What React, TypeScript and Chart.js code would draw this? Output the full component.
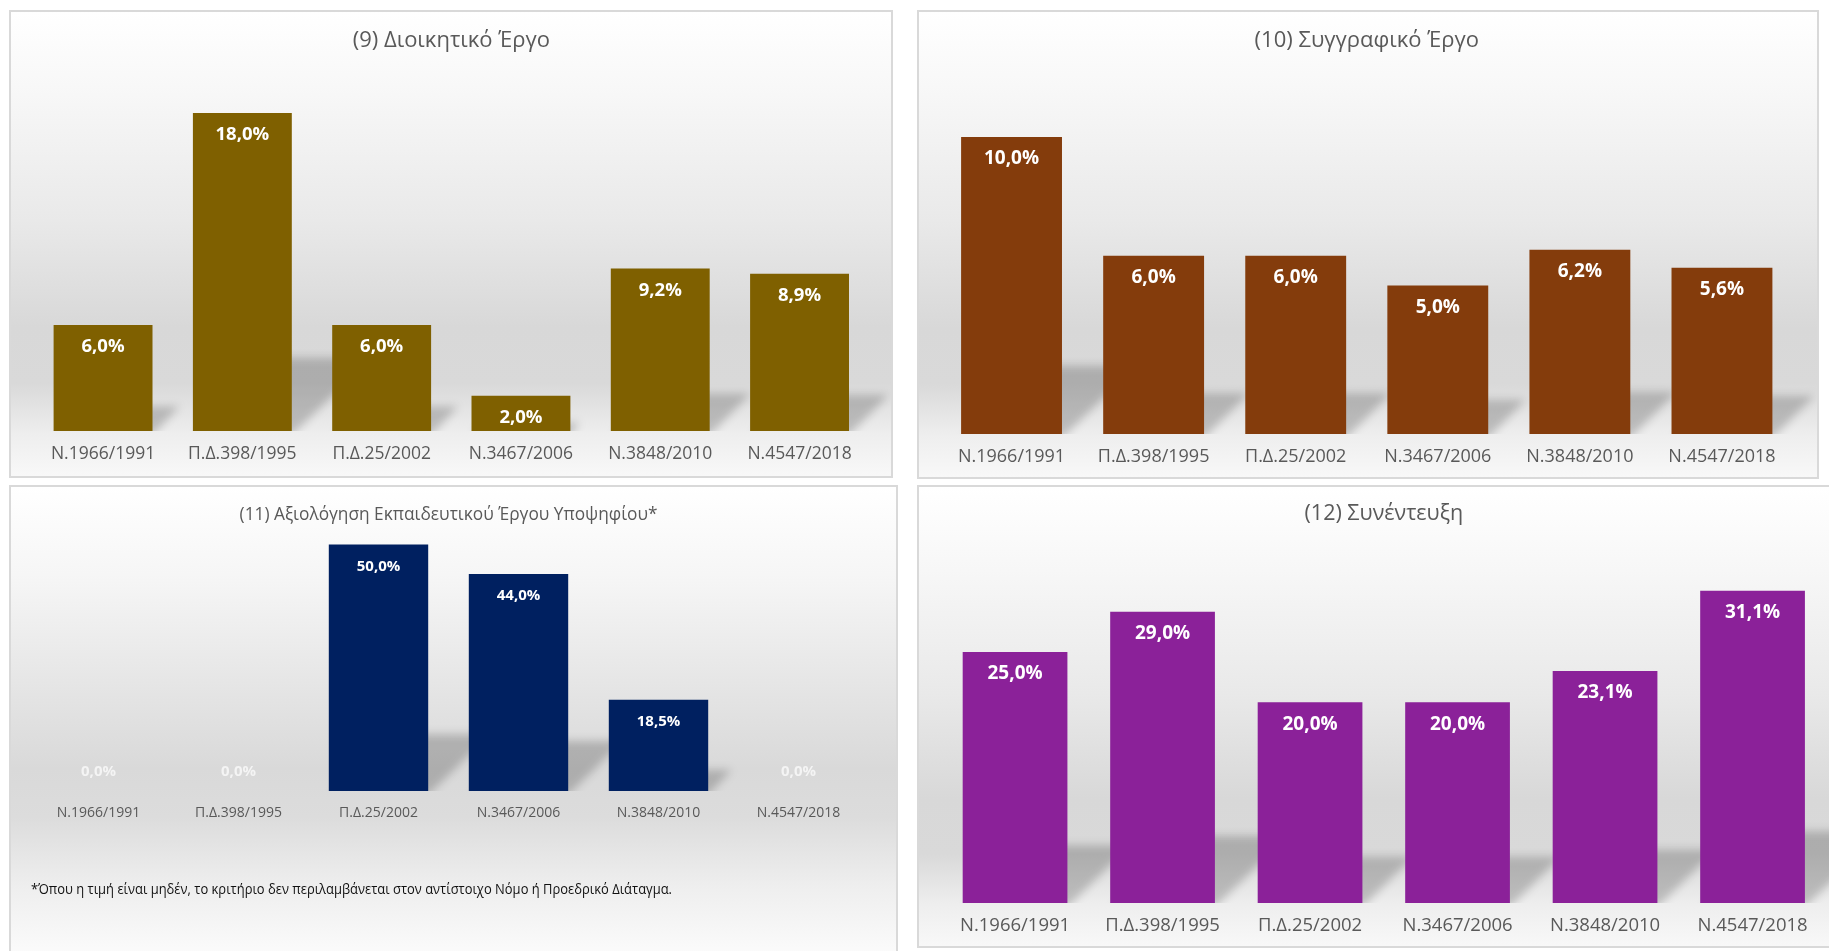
import React, { useEffect, useRef } from 'react';
import { Chart, registerables } from 'chart.js';

Chart.register(...registerables);

// ---------- DATA ----------
const categories = ['Ν.1966/1991', 'Π.Δ.398/1995', 'Π.Δ.25/2002', 'Ν.3467/2006', 'Ν.3848/2010', 'Ν.4547/2018'];

const titleAdmin = '(9) Διοικητικό Έργο';
const titleWriting = '(10) Συγγραφικό Έργο';
const titleTeaching = '(11) Αξιολόγηση Εκπαιδευτικού Έργου Υποψηφίου*';
const titleInterview = '(12) Συνέντευξη';

const adminValues = [6.0, 18.0, 6.0, 2.0, 9.2, 8.9];
const writingValues = [10.0, 6.0, 6.0, 5.0, 6.2, 5.6];
const teachingValues = [0.0, 0.0, 50.0, 44.0, 18.5, 0.0];
const interviewValues = [25.0, 29.0, 20.0, 20.0, 23.1, 31.1];

const footnote = '*Όπου η τιμή είναι μηδέν, το κριτήριο δεν περιλαμβάνεται στον αντίστοιχο Νόμο ή Προεδρικό Διάταγμα.';

// ---------- STYLE / LAYOUT ----------
const FONT = "'Open Sans', 'Noto Sans', sans-serif";
const BW = 2;
const TEXT = '#595959';

type Box = { x: number; y: number; w: number; h: number };
type Spec = {
  title: string;
  values: number[];
  color: string;
  box: Box;
  areaLeft: number;
  areaRight: number;
  titleY: number;
  base: number;
  pxPerUnit: number;
  labelY: number;
  titleSize: number;
  tickSize: number;
  valueSize: number;
  bg: string;
};

const bgStd =
  'linear-gradient(to bottom, #ffffff 0%, #f7f7f7 18%, #e9e9e9 45%, #d8d8d8 68%, #d9d9d9 80%, #eeeeee 91%, #f8f8f8 100%)';
const bgTeach =
  'linear-gradient(to bottom, #ffffff 0%, #f6f6f6 18%, #e6e6e6 40%, #d9d9d9 58%, #dcdcdc 68%, #eeeeee 82%, #fafafa 95%, #ffffff 100%)';

const fmt = (v: number) => v.toFixed(1).replace('.', ',') + '%';

const specs: Spec[] = [
  {
    title: titleAdmin, values: adminValues, color: '#7F6000',
    box: { x: 9, y: 10, w: 884, h: 468 },
    areaLeft: 33.4, areaRight: 869.2, titleY: 41, base: 431, pxPerUnit: 17.67, labelY: 454,
    titleSize: 22, tickSize: 17.5, valueSize: 18.5, bg: bgStd,
  },
  {
    title: titleWriting, values: writingValues, color: '#843C0C',
    box: { x: 917, y: 10, w: 902, h: 469 },
    areaLeft: 940.5, areaRight: 1793, titleY: 41, base: 434, pxPerUnit: 29.7, labelY: 456.5,
    titleSize: 22, tickSize: 18, valueSize: 19, bg: bgStd,
  },
  {
    title: titleTeaching, values: teachingValues, color: '#002060',
    box: { x: 9, y: 485, w: 889, h: 490 },
    areaLeft: 28.5, areaRight: 868.5, titleY: 515, base: 791, pxPerUnit: 4.93, labelY: 813,
    titleSize: 17.3, tickSize: 14, valueSize: 15, bg: bgTeach,
  },
  {
    title: titleInterview, values: interviewValues, color: '#8B2199',
    box: { x: 917, y: 485, w: 922, h: 463 },
    areaLeft: 941.3, areaRight: 1826.3, titleY: 514, base: 903, pxPerUnit: 10.04, labelY: 926,
    titleSize: 21.5, tickSize: 18.5, valueSize: 19, bg: bgStd,
  },
];

function Panel({ spec, children }: { spec: Spec; children?: React.ReactNode }) {
  const ref = useRef<HTMLCanvasElement | null>(null);
  const { box } = spec;
  const innerW = box.w - 2 * BW;
  const innerH = box.h - 2 * BW;

  useEffect(() => {
    const canvas = ref.current;
    if (!canvas) return;
    const ox = box.x + BW;
    const oy = box.y + BW;
    const padL = spec.areaLeft - ox;
    const padR = innerW - (spec.areaRight - ox);
    const baseRel = spec.base - oy;
    const lh = spec.titleSize * 1.2;
    const T = spec.titleY - oy - lh / 2;
    const B = 10;
    const top = T + lh + B;
    const ymax = (baseRel - top) / spec.pxPerUnit;
    const axisH = innerH - baseRel;
    const tickPad = spec.labelY - spec.base - spec.tickSize * 0.6;

    const shadowPlugin = {
      id: 'floorShadow',
      beforeDatasetsDraw(chart: any) {
        const ctx = chart.ctx as CanvasRenderingContext2D;
        const meta = chart.getDatasetMeta(0);
        ctx.save();
        ctx.beginPath();
        ctx.rect(0, 0, chart.width, chart.chartArea.bottom);
        ctx.clip();
        ctx.filter = 'blur(4px)';
        ctx.fillStyle = 'rgba(0,0,0,0.2)';
        meta.data.forEach((bar: any) => {
          const p = bar.getProps(['x', 'y', 'base', 'width'], true);
          const h = p.base - p.y;
          if (h <= 1) return;
          const sh = h * 0.23;
          const dx = sh * 1.1;
          const L = p.x - p.width / 2;
          const R = p.x + p.width / 2;
          ctx.beginPath();
          ctx.moveTo(L + 2, p.base + 4);
          ctx.lineTo(R, p.base + 4);
          ctx.lineTo(R + dx, p.base - sh);
          ctx.lineTo(L + dx, p.base - sh);
          ctx.closePath();
          ctx.fill();
        });
        ctx.restore();
      },
    };

    const valuePlugin = {
      id: 'valueLabels',
      afterDatasetsDraw(chart: any) {
        const ctx = chart.ctx as CanvasRenderingContext2D;
        const meta = chart.getDatasetMeta(0);
        ctx.save();
        ctx.font = `bold ${spec.valueSize}px ${FONT}`;
        ctx.textAlign = 'center';
        ctx.textBaseline = 'middle';
        meta.data.forEach((bar: any, i: number) => {
          const v = spec.values[i];
          const p = bar.getProps(['x', 'y', 'base'], true);
          if (v === 0) {
            ctx.fillStyle = '#f4f4f4';
            ctx.fillText(fmt(v), p.x, p.base - 19);
          } else {
            ctx.fillStyle = '#ffffff';
            ctx.fillText(fmt(v), p.x, p.y + 22);
          }
        });
        ctx.restore();
      },
    };

    const chart = new Chart(canvas, {
      type: 'bar',
      data: {
        labels: categories,
        datasets: [
          {
            data: spec.values,
            backgroundColor: spec.color,
            borderWidth: 0,
            barPercentage: 0.71,
            categoryPercentage: 1,
          },
        ],
      },
      options: {
        responsive: false,
        animation: false,
        devicePixelRatio: 1,
        layout: { padding: { left: padL, right: padR, top: 0, bottom: 0 } },
        plugins: {
          legend: { display: false },
          tooltip: { enabled: false },
          title: {
            display: true,
            text: spec.title,
            color: TEXT,
            font: { family: FONT, size: spec.titleSize, weight: 'normal', lineHeight: 1.2 },
            padding: { top: T, bottom: B },
          },
        },
        scales: {
          x: {
            grid: { display: false, drawTicks: false },
            border: { display: false },
            ticks: {
              color: TEXT,
              font: { family: FONT, size: spec.tickSize },
              padding: tickPad,
              maxRotation: 0,
              minRotation: 0,
              autoSkip: false,
            },
            afterFit: (s: any) => {
              s.height = axisH;
            },
          },
          y: { display: false, min: 0, max: ymax },
        },
      } as any,
      plugins: [shadowPlugin, valuePlugin],
    });
    return () => chart.destroy();
  }, []);

  return (
    <div
      style={{
        position: 'absolute',
        left: box.x,
        top: box.y,
        width: innerW,
        height: innerH,
        border: `${BW}px solid #d9d9d9`,
        background: spec.bg,
      }}
    >
      <canvas ref={ref} width={innerW} height={innerH} style={{ display: 'block', width: innerW, height: innerH }} />
      {children}
    </div>
  );
}

function Footnote({ box }: { box: Box }) {
  const ref = useRef<HTMLSpanElement | null>(null);
  useEffect(() => {
    const el = ref.current;
    if (!el) return;
    const w = el.getBoundingClientRect().width;
    if (w > 0) el.style.transform = `scaleX(${641 / w})`;
  }, []);
  return (
    <span
      ref={ref}
      style={{
        position: 'absolute',
        left: 31 - box.x - BW,
        top: 888 - box.y - BW - 10,
        fontFamily: FONT,
        fontSize: 15,
        lineHeight: '20px',
        color: '#111111',
        whiteSpace: 'nowrap',
        transformOrigin: 'left center',
        display: 'inline-block',
      }}
    >
      {footnote}
    </span>
  );
}

export default function App() {
  return (
    <div
      style={{
        position: 'fixed',
        left: 0,
        top: 0,
        width: 1829,
        height: 951,
        overflow: 'hidden',
        background: '#ffffff',
      }}
    >
      <Panel spec={specs[0]} />
      <Panel spec={specs[1]} />
      <Panel spec={specs[2]}>
        <Footnote box={specs[2].box} />
      </Panel>
      <Panel spec={specs[3]} />
    </div>
  );
}
